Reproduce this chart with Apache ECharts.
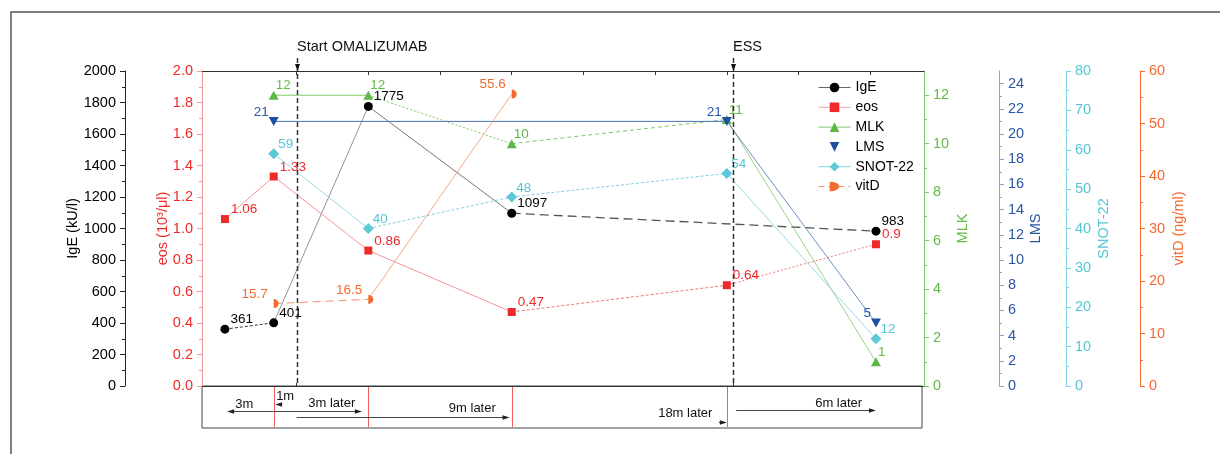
<!DOCTYPE html>
<html>
<head>
<meta charset="utf-8">
<script src="https://cdn.jsdelivr.net/npm/echarts@6/dist/echarts.min.js"></script>
<style>
html, body { margin: 0; padding: 0; background: #fff; }
#chart { width: 1220px; height: 454px; }
</style>
</head>
<body>
<div id="chart"></div>
<script>
// Visit time points on the horizontal scale (axis units, one top tick per unit)
const timeX = [0, 0.68, 2, 4, 7, 9.08];

// Measured values per visit (null = not measured)
const igeValues  = [361, 401, 1775, 1097, null, 983];
const eosValues  = [1.06, 1.33, 0.86, 0.47, 0.64, 0.9];
const mlkValues  = [null, 12, 12, 10, 11, 1];
const lmsValues  = [null, 21, null, null, 21, 5];
const snotValues = [null, 59, 40, 48, 54, 12];
const vitdValues = [null, 15.7, 16.5, 55.6, null, null];

const seriesNames = ['IgE', 'eos', 'MLK', 'LMS', 'SNOT-22', 'vitD'];

// Axis tick labels
const igeTicks  = [0, 200, 400, 600, 800, 1000, 1200, 1400, 1600, 1800, 2000];
const eosTicks  = [0, 0.2, 0.4, 0.6, 0.8, 1.0, 1.2, 1.4, 1.6, 1.8, 2.0];
const mlkTicks  = [0, 2, 4, 6, 8, 10, 12];
const lmsTicks  = [0, 2, 4, 6, 8, 10, 12, 14, 16, 18, 20, 22, 24];
const snotTicks = [0, 10, 20, 30, 40, 50, 60, 70, 80];
const vitdTicks = [0, 10, 20, 30, 40, 50, 60];
const topTicks  = [1, 2, 3, 4, 5, 6, 7, 8, 9];

// Treatment events
const eventNames = ['Start OMALIZUMAB', 'ESS'];
const eventX = [1, 7.09];

// Time intervals between visits
const intervalLabels = ['3m', '1m', '3m later', '9m later', '18m later', '6m later'];

const FONT = '"Liberation Sans", Arial, Helvetica, sans-serif';

// Layout of the interval arrows in the strip under the plot
const intervalLayout = [
  { from: 0.68, to: 0.03, arrowDy: 25, textX: 0.27, textDy: 18 },
  { from: 0.78, to: 0.70, arrowDy: 18, textX: 0.84, textDy: 10 },
  { from: 0.68, to: 1.91, arrowDy: 25, textX: 1.49, textDy: 17 },
  { from: 1.00, to: 3.97, arrowDy: 31, textX: 3.45, textDy: 22 },
  { from: 6.89, to: 7.00, arrowDy: 36, textX: 6.42, textDy: 27 },
  { from: 7.13, to: 9.08, arrowDy: 24, textX: 8.56, textDy: 17 }
];

const C = {
  ige:  { mark: '#000000', label: '#000000', axis: '#222222' },
  eos:  { mark: '#ee2a2a', label: '#ee2a2a', axis: '#f39a9a', line: '#f27878' },
  mlk:  { mark: '#5cb947', label: '#62bb45', axis: '#7cc86a', line: '#7cc86a' },
  lms:  { mark: '#1f4fa0', label: '#2a55a5', axis: '#8aa5d5', line: '#4b72b8' },
  snot: { mark: '#5cc8d8', label: '#55c5d5', axis: '#7fd3e0', line: '#7fd3e0' },
  vitd: { mark: '#f26a30', label: '#f26a30', axis: '#f26a30', line: '#f5906a' }
};

// Line style of each segment between consecutive visits
const segmentStyles = {
  ige:  [{ type: [3, 2], color: '#333', width: 1 }, { type: 'solid', color: '#777', width: 0.8 },
         { type: 'solid', color: '#555', width: 0.8 }, { type: [9, 5], color: '#555', width: 1.3 }],
  eos:  [{ type: 'solid', color: C.eos.line, width: 0.8 }, { type: 'solid', color: C.eos.line, width: 0.8 },
         { type: 'solid', color: C.eos.line, width: 0.8 }, { type: [3, 2], color: C.eos.line, width: 1 },
         { type: [2, 2], color: C.eos.line, width: 1 }],
  mlk:  [{ type: 'solid', color: C.mlk.line, width: 1 }, { type: [2, 2], color: C.mlk.line, width: 1 },
         { type: [4, 3], color: C.mlk.line, width: 1 }, { type: 'solid', color: C.mlk.line, width: 0.8 }],
  lms:  [{ type: 'solid', color: C.lms.line, width: 1 }, { type: 'solid', color: C.lms.line, width: 0.8 }],
  snot: [{ type: 'solid', color: C.snot.line, width: 0.8 }, { type: [3, 2], color: C.snot.line, width: 1 },
         { type: [3, 2], color: C.snot.line, width: 1 }, { type: 'solid', color: C.snot.line, width: 0.8 }],
  vitd: [{ type: [8, 5], color: C.vitd.line, width: 1 }, { type: 'solid', color: C.vitd.line, width: 0.8 }]
};

const INV_TRIANGLE = 'path://M0,0 L10,0 L5,9 Z';
const HALF_CIRCLE = 'path://M0,0 A5,5 0 0 1 0,10 Z';

const vars = [
  { key: 'ige',  name: 'IgE',     values: igeValues,  y: 1, symbol: 'circle',   size: 9,       label: { position: 'right', distance: 1, offset: [0, -10] } },
  { key: 'eos',  name: 'eos',     values: eosValues,  y: 0, symbol: 'rect',     size: 8,       label: { position: 'right', distance: 2, offset: [0, -9.5] } },
  { key: 'mlk',  name: 'MLK',     values: mlkValues,  y: 2, symbol: 'triangle', size: [10, 9], label: { position: 'right', distance: 0, offset: [-3, -9.5] } },
  { key: 'lms',  name: 'LMS',     values: lmsValues,  y: 3, symbol: INV_TRIANGLE, size: [10, 9], label: { position: 'left', distance: 0, offset: [0, -9.5] } },
  { key: 'snot', name: 'SNOT-22', values: snotValues, y: 4, symbol: 'diamond',  size: 11,      label: { position: 'right', distance: 0, offset: [-1, -9] } },
  { key: 'vitd', name: 'vitD',    values: vitdValues, y: 5, symbol: HALF_CIRCLE, size: [5, 9], symbolOffset: [2.5, 0], label: { position: 'left', distance: 6, offset: [0, -9.5] } }
];

function points(values) {
  const pts = [];
  values.forEach((v, i) => { if (v !== null) pts.push([timeX[i], v]); });
  return pts;
}

const series = [];
vars.forEach(v => {
  const pts = points(v.values);
  // connecting segments, each with its own dash style
  for (let i = 0; i < pts.length - 1; i++) {
    const st = segmentStyles[v.key][i];
    series.push({
      type: 'line', yAxisIndex: v.y, silent: true, symbol: 'none', z: 2,
      data: [pts[i], pts[i + 1]],
      lineStyle: { color: st.color, width: st.width, type: st.type },
      label: { show: false }, emphasis: { disabled: true }
    });
  }
  // markers with value labels
  series.push({
    name: v.name, type: 'line', yAxisIndex: v.y, z: 5,
    data: pts,
    symbol: v.symbol, symbolSize: v.size, symbolOffset: v.symbolOffset || [0, 0],
    showAllSymbol: true,
    itemStyle: { color: C[v.key].mark },
    lineStyle: { width: 0, opacity: 0 },
    label: Object.assign({
      show: true, color: C[v.key].label, fontSize: 13.5, fontFamily: FONT,
      formatter: p => String(p.value[1])
    }, v.label),
    emphasis: { disabled: true }
  });
});

function yAxisDef(o) {
  return {
    type: 'value', position: o.pos, offset: o.offset, min: o.min, max: o.max, interval: o.interval,
    name: o.name, nameLocation: 'middle', nameGap: o.nameGap, nameRotate: 90, nameMoveOverlap: false,
    nameTextStyle: { color: o.labelColor, fontSize: 14.5, fontFamily: FONT },
    axisLine: { show: true, onZero: false, lineStyle: { color: o.lineColor, width: 1 } },
    axisTick: { show: true, length: 5, customValues: o.ticks, lineStyle: { color: o.lineColor, width: 1 } },
    minorTick: { show: true, splitNumber: 2, length: 3, lineStyle: { color: o.lineColor, width: 1 } },
    axisLabel: { color: o.labelColor, fontSize: 14.5, fontFamily: FONT, margin: 9, customValues: o.ticks,
                 formatter: o.fmt || (val => String(val)) },
    splitLine: { show: false }
  };
}

const yAxes = [
  yAxisDef({ pos: 'left', offset: 0, min: 0, max: 2, interval: 0.2, ticks: eosTicks, name: 'eos (10³/μl)', nameGap: 32,
             labelColor: C.eos.label, lineColor: C.eos.axis, fmt: v => v.toFixed(1) }),
  yAxisDef({ pos: 'left', offset: 77, min: 0, max: 2000, interval: 200, ticks: igeTicks, name: 'IgE (kU/l)', nameGap: 45,
             labelColor: '#000', lineColor: C.ige.axis }),
  yAxisDef({ pos: 'right', offset: 0, min: 0, max: 13, interval: 2, ticks: mlkTicks, name: 'MLK', nameGap: 31,
             labelColor: C.mlk.label, lineColor: C.mlk.axis }),
  yAxisDef({ pos: 'right', offset: 75, min: 0, max: 25, interval: 2, ticks: lmsTicks, name: 'LMS', nameGap: 29,
             labelColor: C.lms.label, lineColor: C.lms.axis }),
  yAxisDef({ pos: 'right', offset: 142, min: 0, max: 80, interval: 10, ticks: snotTicks, name: 'SNOT-22', nameGap: 30,
             labelColor: C.snot.label, lineColor: C.snot.axis }),
  yAxisDef({ pos: 'right', offset: 216, min: 0, max: 60, interval: 10, ticks: vitdTicks, name: 'vitD (ng/ml)', nameGap: 31,
             labelColor: C.vitd.label, lineColor: C.vitd.axis })
];

const X_MIN = -0.32, X_MAX = 9.75;

const legendLines = {
  'IgE':     { color: '#666', width: 1, opacity: 1, type: 'solid' },
  'eos':     { color: '#f4a8a8', width: 1, opacity: 1, type: 'solid' },
  'MLK':     { color: C.mlk.line, width: 1, opacity: 1, type: 'solid' },
  'LMS':     { opacity: 0, width: 0 },
  'SNOT-22': { color: C.snot.line, width: 1, opacity: 1, type: 'solid' },
  'vitD':    { color: C.vitd.line, width: 1, opacity: 1, type: [6, 4] }
};

const chart = echarts.init(document.getElementById('chart'), null, { renderer: 'canvas' });

chart.setOption({
  animation: false,
  backgroundColor: '#fff',
  textStyle: { fontFamily: FONT },
  grid: { left: 202, right: 296, top: 71, bottom: 68, containLabel: false },
  legend: {
    orient: 'vertical', left: 813, top: 75.5, itemWidth: 32, itemHeight: 12, itemGap: 5.8,
    textStyle: { fontSize: 14, color: '#000', fontFamily: FONT, lineHeight: 14 },
    data: seriesNames.map(n => ({ name: n, lineStyle: legendLines[n] })),
    selectedMode: false
  },
  xAxis: [
    {
      type: 'value', position: 'bottom', min: X_MIN, max: X_MAX,
      axisLine: { show: true, onZero: false, lineStyle: { color: '#333', width: 1.2 } },
      axisTick: { show: true, inside: true, length: 3, customValues: eventX, lineStyle: { color: '#333' } },
      axisLabel: { show: false }, splitLine: { show: false }
    },
    {
      type: 'value', position: 'top', min: X_MIN, max: X_MAX,
      axisLine: { show: true, onZero: false, lineStyle: { color: '#333', width: 1.2 } },
      axisTick: { show: true, inside: true, length: 4, customValues: topTicks, lineStyle: { color: '#333' } },
      axisLabel: { show: false }, splitLine: { show: false }
    }
  ],
  yAxis: yAxes,
  series: series
});

// Annotations placed through the axis scales
const px = v => chart.convertToPixel({ xAxisIndex: 0 }, v);
const yBottom = chart.convertToPixel({ yAxisIndex: 0 }, 0);
const yTop = chart.convertToPixel({ yAxisIndex: 0 }, 2);
const xLeft = px(X_MIN), xRight = px(X_MAX);
const stripBottom = yBottom + 42;

const graphics = [];

// outer frame
graphics.push({ type: 'polyline', silent: true, shape: { points: [[11, 454], [11, 12], [1220, 12]] },
  style: { stroke: '#555', lineWidth: 1.5, fill: null } });

// timeline strip
graphics.push({ type: 'rect', silent: true, shape: { x: xLeft, y: yBottom, width: xRight - xLeft - 2, height: 42 },
  style: { stroke: '#444', lineWidth: 1, fill: null } });
timeX.slice(1, 5).forEach(t => {
  const x = Math.round(px(t)) + 0.5;
  graphics.push({ type: 'line', silent: true, shape: { x1: x, y1: yBottom, x2: x, y2: stripBottom - 1 },
    style: { stroke: '#f26060', lineWidth: 1 } });
});

function arrow(x1, x2, y) {
  const dir = x2 > x1 ? 1 : -1;
  graphics.push({ type: 'line', silent: true, shape: { x1: x1, y1: y, x2: x2 - dir * 4, y2: y },
    style: { stroke: '#444', lineWidth: 1 } });
  graphics.push({ type: 'polygon', silent: true,
    shape: { points: [[x2, y], [x2 - dir * 7, y - 2.2], [x2 - dir * 7, y + 2.2]] },
    style: { fill: '#222' } });
}

intervalLayout.forEach((a, i) => {
  arrow(px(a.from), px(a.to), Math.round(yBottom + a.arrowDy) + 0.5);
  graphics.push({ type: 'text', silent: true, x: px(a.textX), y: yBottom + a.textDy,
    style: { text: intervalLabels[i], fontSize: 13, fontFamily: FONT, fill: '#111', align: 'center', verticalAlign: 'middle' } });
});

// event markers with dashed vertical lines
eventX.forEach((ex, i) => {
  const x = Math.round(px(ex)) + 0.5;
  graphics.push({ type: 'line', silent: true, z: 10, shape: { x1: x, y1: yTop - 13, x2: x, y2: yBottom },
    style: { stroke: '#333', lineWidth: 1.5, lineDash: [5, 3] } });
  graphics.push({ type: 'polygon', silent: true, z: 10,
    shape: { points: [[x, yTop], [x - 2.5, yTop - 7], [x + 2.5, yTop - 7]] }, style: { fill: '#111' } });
  graphics.push({ type: 'text', silent: true, x: x - 0.5, y: 47,
    style: { text: eventNames[i], fontSize: 14.5, fontFamily: FONT, fill: '#111', align: 'left', verticalAlign: 'middle' } });
});

chart.setOption({ graphic: graphics });
</script>
</body>
</html>
